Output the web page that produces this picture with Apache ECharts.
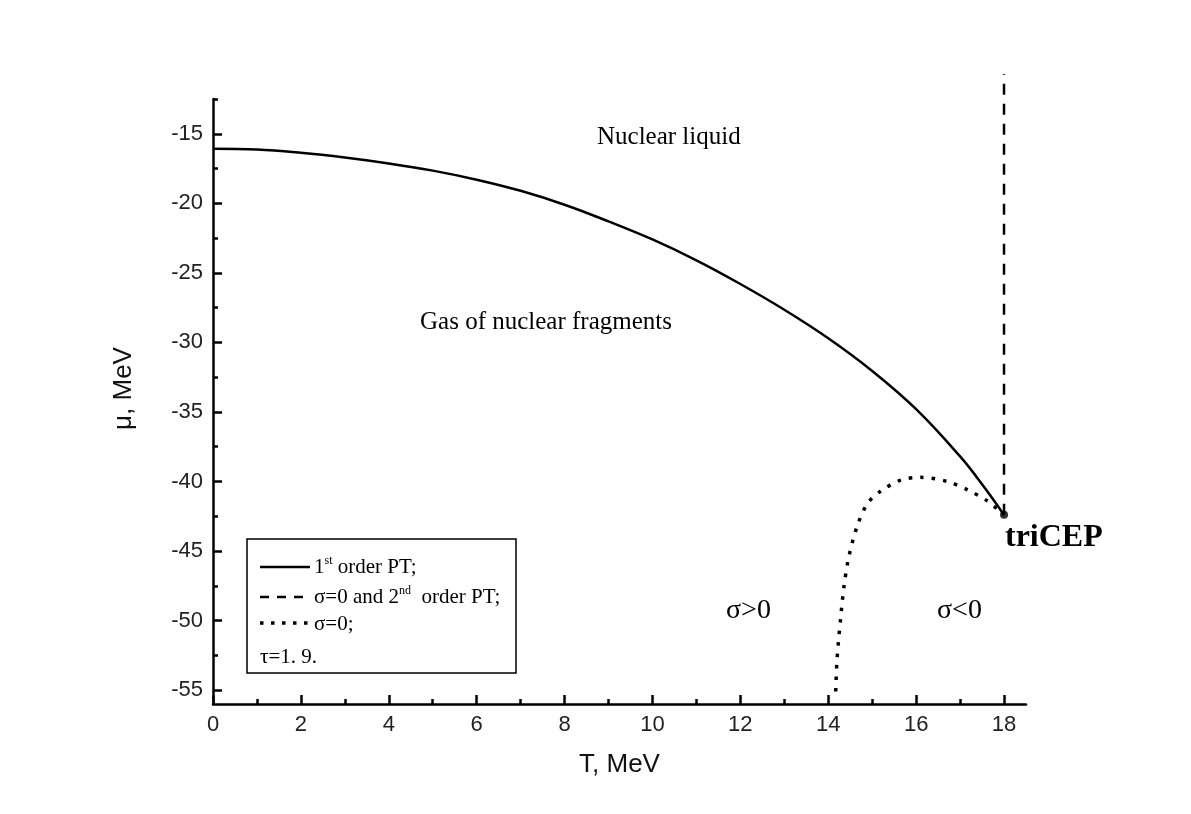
<!DOCTYPE html>
<html>
<head>
<meta charset="utf-8">
<script src="https://cdn.jsdelivr.net/npm/echarts@6/dist/echarts.min.js"></script>
<style>html,body{margin:0;padding:0;background:#fff;}#c{width:1191px;height:814px;}</style>
</head>
<body>
<div id="c"></div>
<script>
// ---- data ----
const firstOrderT  = [0, 1, 2, 3, 4, 5, 6, 7, 8, 9, 10, 11, 12, 13, 14, 15, 16, 17, 17.5, 18];
const firstOrderMu = [-16.08, -16.13, -16.36, -16.7, -17.13, -17.65, -18.3, -19.1, -20.1, -21.3, -22.6, -24.1, -25.8, -27.65, -29.7, -32.05, -34.8, -38.2, -40.2, -42.4];

const sigmaZeroT  = [14.17, 14.2, 14.28, 14.36, 14.47, 14.66, 14.89, 15.19, 15.65, 16.1, 16.71, 17.17, 17.62, 18.0];
const sigmaZeroMu = [-55.1, -52.8, -49.9, -47.5, -45.4, -43.2, -41.6, -40.7, -39.9, -39.7, -40.0, -40.6, -41.4, -42.4];

const secondOrderT  = [18, 18];
const secondOrderMu = [-42.4, -10.7];

const triCEP = [18, -42.4];

const xTicks      = [0, 2, 4, 6, 8, 10, 12, 14, 16, 18];
const xMinorTicks = [1, 3, 5, 7, 9, 11, 13, 15, 17];
const yTicks      = [-55, -50, -45, -40, -35, -30, -25, -20, -15];
const yMinorTicks = [-52.5, -47.5, -42.5, -37.5, -32.5, -27.5, -22.5, -17.5, -12.5];

const zip = (a, b) => a.map((v, i) => [v, b[i]]);

const SANS = "'Liberation Sans', Arial, sans-serif";
const SERIF = "'Liberation Serif', 'Times New Roman', serif";

const chart = echarts.init(document.getElementById('c'), null, {renderer: 'canvas'});

const axisLine = {show: true, lineStyle: {color: '#000', width: 2.5}};
const richLegend = {
  a: {fontFamily: SERIF, fontSize: 21, lineHeight: 24, fill: '#000'},
  s: {fontFamily: SERIF, fontSize: 12, lineHeight: 14, verticalAlign: 'top', fill: '#000'}
};

chart.setOption({
  animation: false,
  backgroundColor: '#fff',
  grid: {left: 213, right: 165, top: 99, bottom: 110, containLabel: false},
  xAxis: [{
    type: 'value', min: 0, max: 18.5,
    position: 'bottom',
    name: 'T, MeV', nameLocation: 'middle', nameGap: 48,
    nameTextStyle: {fontFamily: SANS, fontSize: 26, color: '#111'},
    axisLine: axisLine,
    axisTick: {show: true, inside: true, length: 9, lineStyle: {color: '#000', width: 2.5}, customValues: xTicks},
    axisLabel: {show: true, margin: 10, fontFamily: SANS, fontSize: 22, color: '#222', customValues: xTicks},
    splitLine: {show: false}
  }, {
    type: 'value', min: 0, max: 18.5,
    position: 'bottom', offset: 0,
    axisLine: {show: false},
    axisTick: {show: true, inside: true, length: 5, lineStyle: {color: '#000', width: 2.5}, customValues: xMinorTicks},
    axisLabel: {show: false},
    splitLine: {show: false}
  }],
  yAxis: [{
    type: 'value', min: -56, max: -12.5,
    position: 'left',
    name: 'μ, MeV', nameLocation: 'middle', nameGap: 76,
    nameTextStyle: {fontFamily: SANS, fontSize: 26, color: '#111', padding: [0, 0, 0, 26]},
    axisLine: axisLine,
    axisTick: {show: true, inside: true, length: 9, lineStyle: {color: '#000', width: 2.5}, customValues: yTicks},
    axisLabel: {show: true, margin: 10, fontFamily: SANS, fontSize: 22, color: '#222', customValues: yTicks},
    splitLine: {show: false}
  }, {
    type: 'value', min: -56, max: -12.5,
    position: 'left', offset: 0,
    axisLine: {show: false},
    axisTick: {show: true, inside: true, length: 5, lineStyle: {color: '#000', width: 2.5}, customValues: yMinorTicks},
    axisLabel: {show: false},
    splitLine: {show: false}
  }],
  series: [{
    name: '1st order PT',
    type: 'line', xAxisIndex: 0, yAxisIndex: 0,
    data: zip(firstOrderT, firstOrderMu),
    smooth: 0.4, showSymbol: false, symbol: 'none',
    lineStyle: {color: '#000', width: 2.5, type: 'solid'}
  }, {
    name: 'σ=0',
    type: 'line', xAxisIndex: 0, yAxisIndex: 0,
    data: zip(sigmaZeroT, sigmaZeroMu),
    smooth: 0.3, showSymbol: false, symbol: 'none',
    lineStyle: {color: '#000', width: 3.5, type: [3.5, 8]}
  }, {
    name: 'σ=0 and 2nd order PT',
    type: 'line', xAxisIndex: 0, yAxisIndex: 0,
    data: zip(secondOrderT, secondOrderMu),
    clip: false, showSymbol: false, symbol: 'none',
    lineStyle: {color: '#000', width: 2.5, type: [11, 9]}
  }, {
    name: 'triCEP',
    type: 'scatter', xAxisIndex: 0, yAxisIndex: 0,
    data: [triCEP], clip: false,
    symbol: 'circle', symbolSize: 8,
    itemStyle: {color: '#000'}
  }],
  graphic: [
    {type: 'text', left: 597, top: 125, style: {text: 'Nuclear liquid', font: '25px ' + SERIF, fill: '#000'}},
    {type: 'text', left: 420, top: 310, style: {text: 'Gas of nuclear fragments', font: '25px ' + SERIF, fill: '#000'}},
    {type: 'text', left: 1005, top: 522, style: {text: 'triCEP', font: 'bold 32px ' + SERIF, fill: '#000'}},
    {type: 'text', left: 726, top: 597, style: {text: 'σ>0', font: '28px ' + SERIF, fill: '#000'}},
    {type: 'text', left: 937, top: 597, style: {text: 'σ<0', font: '28px ' + SERIF, fill: '#000'}},
    // legend box
    {type: 'rect', shape: {x: 247, y: 539, width: 269, height: 134}, style: {fill: '#fff', stroke: '#000', lineWidth: 1.5}, z: 10},
    {type: 'line', shape: {x1: 260, y1: 567, x2: 310, y2: 567}, style: {stroke: '#000', lineWidth: 2.5}, z: 11},
    {type: 'line', shape: {x1: 260, y1: 597, x2: 310, y2: 597}, style: {stroke: '#000', lineWidth: 2.5, lineDash: [9, 8]}, z: 11},
    {type: 'line', shape: {x1: 260, y1: 623, x2: 308, y2: 623}, style: {stroke: '#000', lineWidth: 3.5, lineDash: [3.5, 7.5]}, z: 11},
    {type: 'text', x: 314, y: 567, z: 11, style: {text: '{a|1}{s|st}{a| order PT;}', verticalAlign: 'middle', rich: richLegend}},
    {type: 'text', x: 314, y: 597, z: 11, style: {text: '{a|σ=0 and 2}{s|nd}{a|  order PT;}', verticalAlign: 'middle', rich: richLegend}},
    {type: 'text', x: 314, y: 624, z: 11, style: {text: 'σ=0;', font: '21px ' + SERIF, fill: '#000', verticalAlign: 'middle'}},
    {type: 'text', x: 260, y: 657, z: 11, style: {text: 'τ=1. 9.', font: '21px ' + SERIF, fill: '#000', verticalAlign: 'middle'}}
  ]
});
</script>
</body>
</html>
